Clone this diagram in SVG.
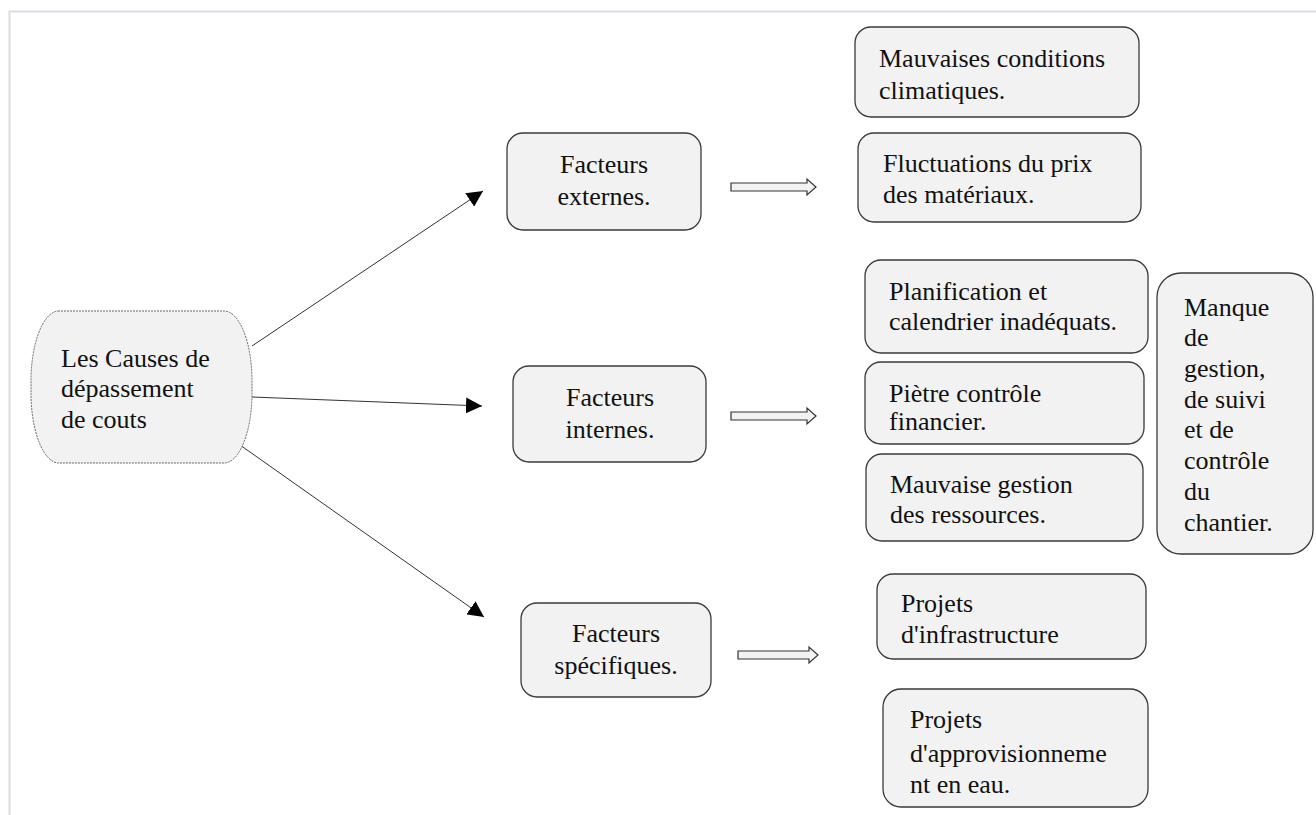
<svg xmlns="http://www.w3.org/2000/svg" width="1316" height="815" viewBox="0 0 1316 815" font-family="Liberation Serif, Times New Roman, serif" font-size="26">
<style>
.box{fill:#f2f2f2;stroke:#3a3a3a;stroke-width:1.3}
.t{fill:#111}
.ln{stroke:#333;stroke-width:1;fill:none}
.ha{fill:#f2f2f2;stroke:#333;stroke-width:1.2}
</style>
<defs>
<marker id="ah" viewBox="0 0 10 10" refX="10" refY="5" markerWidth="16" markerHeight="16" markerUnits="userSpaceOnUse" orient="auto">
<path d="M0,0 L10,5 L0,10 Z" fill="#000"/>
</marker>
</defs>
<rect width="1316" height="815" fill="#fff"/>
<path d="M1316,11.5 H9.5 V815" fill="none" stroke="#d6dde6" stroke-width="2"/>

<g id="connectors">
<line class="ln" x1="252" y1="346" x2="483" y2="191" marker-end="url(#ah)"/>
<line class="ln" x1="252" y1="397" x2="482" y2="406" marker-end="url(#ah)"/>
<line class="ln" x1="240" y1="445" x2="484" y2="617" marker-end="url(#ah)"/>
<path class="ha" d="M731,183 H807 V179 L816,187 L807,195 V191 H731 Z"/>
<path class="ha" d="M731,412 H807 V408 L816,416 L807,424 V420 H731 Z"/>
<path class="ha" d="M738,651 H809 V647 L818,655 L809,663 V659 H738 Z"/>
</g>

<g id="root">
<path d="M58,311 H224 A28,70 0 0 1 252,381 V393 A28,70 0 0 1 224,463 H58 A28,70 0 0 1 31,393 V381 A28,70 0 0 1 58,311 Z" fill="#f2f2f2" stroke="#666" stroke-width="1" stroke-dasharray="2,1"/>
<text class="t" x="61" y="367">Les Causes de</text>
<text class="t" x="61" y="397">dépassement</text>
<text class="t" x="61" y="428">de couts</text>
</g>

<g id="externes">
<rect class="box" x="507" y="133" width="194" height="97" rx="16"/>
<text class="t" x="604" y="173" text-anchor="middle">Facteurs</text>
<text class="t" x="604" y="205" text-anchor="middle">externes.</text>
</g>

<g id="internes">
<rect class="box" x="513" y="366" width="193" height="96" rx="16"/>
<text class="t" x="610" y="406" text-anchor="middle">Facteurs</text>
<text class="t" x="610" y="438" text-anchor="middle">internes.</text>
</g>

<g id="specifiques">
<rect class="box" x="521" y="603" width="190" height="94" rx="16"/>
<text class="t" x="616" y="642" text-anchor="middle">Facteurs</text>
<text class="t" x="616" y="674" text-anchor="middle">spécifiques.</text>
</g>

<g id="climat">
<rect class="box" x="855" y="27" width="284" height="90" rx="16"/>
<text class="t" x="879" y="67">Mauvaises conditions</text>
<text class="t" x="879" y="99">climatiques.</text>
</g>

<g id="prix">
<rect class="box" x="858" y="133" width="283" height="89" rx="16"/>
<text class="t" x="883" y="172">Fluctuations du prix</text>
<text class="t" x="883" y="203">des matériaux.</text>
</g>

<g id="planification">
<rect class="box" x="865" y="260" width="283" height="93" rx="16"/>
<text class="t" x="889" y="300">Planification et</text>
<text class="t" x="889" y="330">calendrier inadéquats.</text>
</g>

<g id="financier">
<rect class="box" x="865" y="362" width="279" height="82" rx="16"/>
<text class="t" x="889" y="402">Piètre contrôle</text>
<text class="t" x="889" y="430">financier.</text>
</g>

<g id="ressources">
<rect class="box" x="866" y="454" width="277" height="87" rx="16"/>
<text class="t" x="890" y="493">Mauvaise gestion</text>
<text class="t" x="890" y="523">des ressources.</text>
</g>

<g id="manque">
<rect class="box" x="1157" y="273" width="156" height="281" rx="24"/>
<text class="t" x="1184" y="316">Manque</text>
<text class="t" x="1184" y="346">de</text>
<text class="t" x="1184" y="377">gestion,</text>
<text class="t" x="1184" y="408">de suivi</text>
<text class="t" x="1184" y="438">et de</text>
<text class="t" x="1184" y="469">contrôle</text>
<text class="t" x="1184" y="500">du</text>
<text class="t" x="1184" y="531">chantier.</text>
</g>

<g id="infrastructure">
<rect class="box" x="877" y="574" width="269" height="85" rx="16"/>
<text class="t" x="901" y="612">Projets</text>
<text class="t" x="901" y="643">d'infrastructure</text>
</g>

<g id="eau">
<rect class="box" x="883" y="689" width="265" height="118" rx="18"/>
<text class="t" x="910" y="728">Projets</text>
<text class="t" x="910" y="762">d'approvisionneme</text>
<text class="t" x="910" y="793">nt en eau.</text>
</g>
</svg>
